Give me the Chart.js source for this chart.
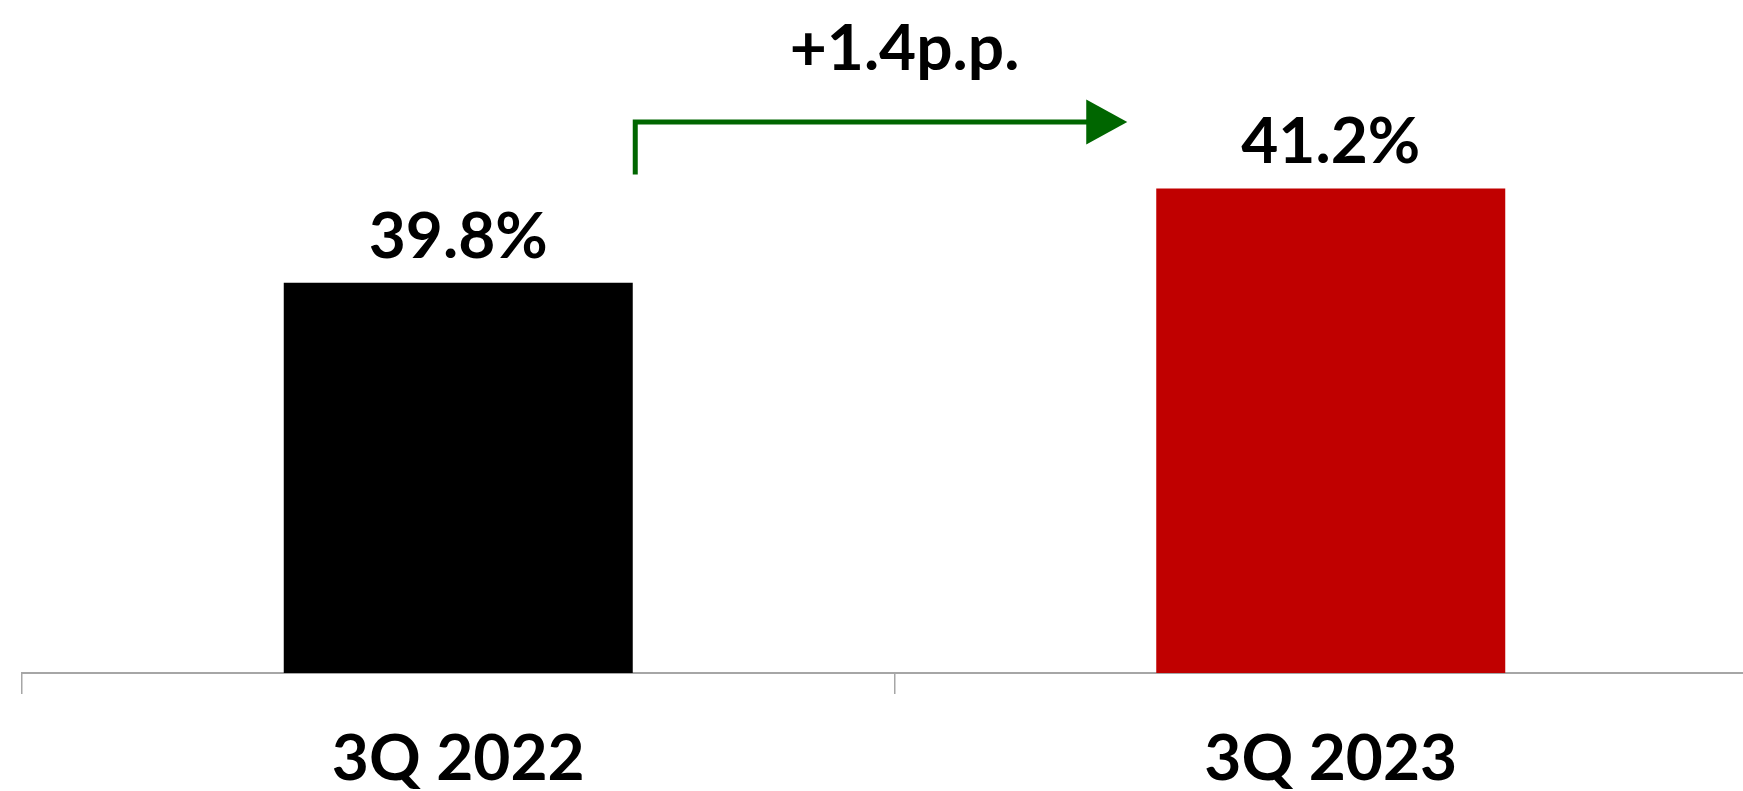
<!DOCTYPE html>
<html lang="en">
<head>
  <meta charset="UTF-8" />
  <title>3Q 2022 vs 3Q 2023</title>
  <script src="https://cdn.jsdelivr.net/npm/chart.js"></script>
  <style>
    html, body { margin: 0; padding: 0; background: #fff; overflow: hidden; }
    #wrap { width: 1743px; height: 791px; overflow: hidden; }
  </style>
</head>
<body>
  <div id="wrap">
    <canvas id="grafico" width="1790" height="824"></canvas>
  </div>

  <script>
    const categorias = ['3Q 2022', '3Q 2023'];
    const valores = [39.8, 41.2];
    const colores = ['#000000', '#C00000'];
    const ejeMin = 34;
    const ejeMax = 44;

    const fuente = 'Lato, "Noto Sans", sans-serif';

    // etiquetas sobre las barras + flecha de variación
    const anotaciones = {
      id: 'anotaciones',
      afterDatasetsDraw(chart) {
        const ctx = chart.ctx;
        const barras = chart.getDatasetMeta(0).data;
        ctx.save();
        ctx.fillStyle = '#000';
        ctx.font = 'bold 64px ' + fuente;
        ctx.textAlign = 'center';
        ctx.textBaseline = 'alphabetic';
        barras.forEach((b, i) => {
          ctx.fillText(valores[i].toFixed(1) + '%', b.x, b.y - 25);
        });

        const b0 = barras[0], b1 = barras[1];
        const x0 = b0.x + b0.width / 2 + 2.5;
        const xTip = b1.x - b1.width / 2 - 29;
        const yLinea = b1.y - 66.5;
        const yInicio = b1.y - 14;

        ctx.strokeStyle = '#006600';
        ctx.fillStyle = '#006600';
        ctx.lineWidth = 5;
        ctx.beginPath();
        ctx.moveTo(x0, yInicio);
        ctx.lineTo(x0, yLinea);
        ctx.lineTo(xTip - 35, yLinea);
        ctx.stroke();
        ctx.beginPath();
        ctx.moveTo(xTip - 41, yLinea - 22.5);
        ctx.lineTo(xTip, yLinea);
        ctx.lineTo(xTip - 41, yLinea + 22.5);
        ctx.closePath();
        ctx.fill();

        const delta = (valores[1] - valores[0]).toFixed(1);
        ctx.fillStyle = '#000';
        ctx.fillText('+' + delta + 'p.p.', (b0.x + b0.width / 2 + b1.x - b1.width / 2) / 2 + 10, yLinea - 51.5);
        ctx.restore();
      }
    };

    new Chart(document.getElementById('grafico').getContext('2d'), {
      type: 'bar',
      data: {
        labels: categorias,
        datasets: [{
          data: valores,
          backgroundColor: colores,
          barPercentage: 0.4,
          categoryPercentage: 1
        }]
      },
      options: {
        responsive: false,
        animation: false,
        layout: { padding: { left: 22, right: 23, top: 0, bottom: 0 } },
        plugins: {
          legend: { display: false },
          tooltip: { enabled: false }
        },
        scales: {
          x: {
            grid: {
              drawOnChartArea: false,
              drawTicks: true,
              tickLength: 21,
              color: '#A6A6A6',
              lineWidth: 1.5
            },
            border: { display: true, color: '#A6A6A6', width: 2 },
            ticks: {
              color: '#000',
              padding: 33,
              font: { family: fuente, size: 64, weight: 'bold', lineHeight: 1 }
            }
          },
          y: {
            display: false,
            min: ejeMin,
            max: ejeMax
          }
        }
      },
      plugins: [anotaciones]
    });
  </script>
</body>
</html>
